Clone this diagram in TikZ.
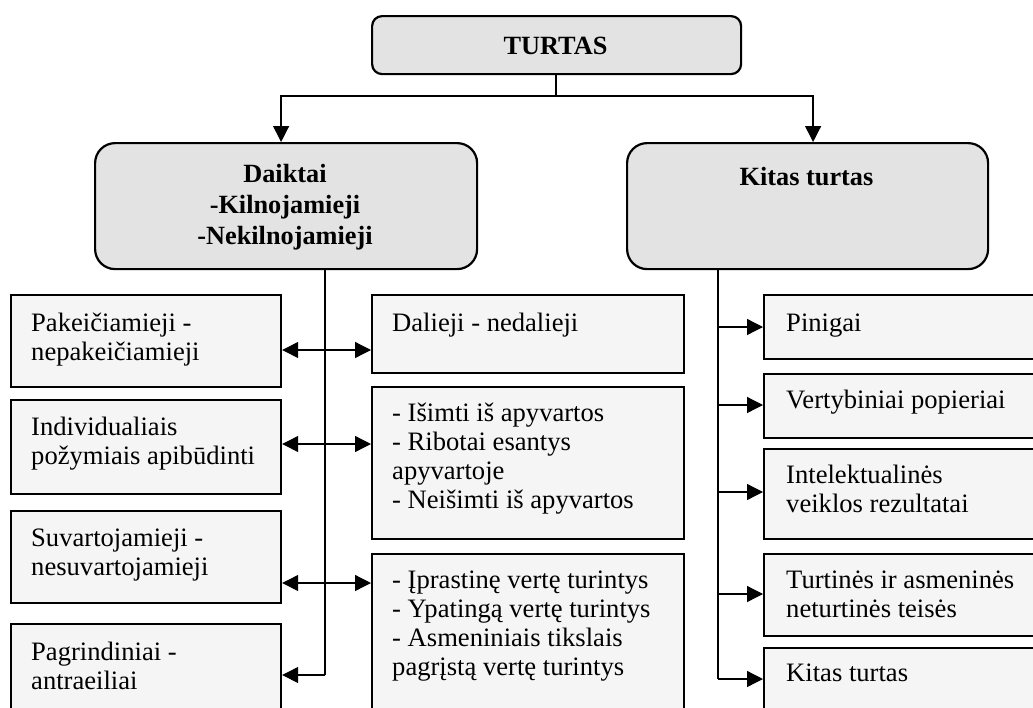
\documentclass[tikz,border=0pt]{standalone}
\usepackage{fontspec}
\setmainfont{Liberation Serif}
\usetikzlibrary{arrows.meta}
\definecolor{bigfill}{HTML}{E3E3E3}
\definecolor{smallfill}{HTML}{F5F5F5}
\newcommand\tstrut{\rule{0pt}{24pt}}
\begin{document}
\begin{tikzpicture}[x=1pt,y=-1pt,
  bigbox/.style={draw,line width=2.2pt,fill=bigfill,rounded corners=#1,anchor=north west,inner sep=0pt},
  smallbox/.style={draw,line width=2.2pt,fill=smallfill,anchor=north west,inner sep=0pt},
  lbl/.style={anchor=north west,inner sep=0pt,align=left,font=\fontsize{26.6}{29}\selectfont},
  blbl/.style={anchor=north,inner sep=0pt,align=center,font=\fontsize{26.3}{31}\selectfont\bfseries},
  conn/.style={line width=1.3pt},
  arr/.style={line width=1.3pt,-{Triangle[length=16pt,width=16pt]}},
  dbl/.style={line width=1.3pt,{Triangle[length=16pt,width=16pt]}-{Triangle[length=16pt,width=16pt]}}
]
\clip (0,0) rectangle (1033,707);
\fill[white] (0,0) rectangle (1033,707);

% top boxes
\node[bigbox=10pt,minimum width=369pt,minimum height=58pt] (turtas) at (371,15) {};
\node[blbl] (turtasT) at (555.5,30) {\tstrut TURTAS};
\node[bigbox=20pt,minimum width=382pt,minimum height=126pt] (daiktai) at (94,142) {};
\node[blbl] (daiktaiT) at (285,158) {\tstrut Daiktai\\-Kilnojamieji\\-Nekilnojamieji};
\node[bigbox=20pt,minimum width=361pt,minimum height=126pt] (kitas) at (626,142) {};
\node[blbl] (kitasT) at (806.5,161) {\tstrut Kitas turtas};

% left boxes
\node[smallbox,minimum width=270pt,minimum height=92pt] (L1) at (10,294) {};
\node[smallbox,minimum width=270pt,minimum height=94pt] (L2) at (10,399) {};
\node[smallbox,minimum width=270pt,minimum height=92pt] (L3) at (10,510) {};
\node[smallbox,minimum width=270pt,minimum height=110pt] (L4) at (10,623) {};
\node[lbl] (L1T) at (31,307) {\tstrut Pakeičiamieji -\\nepakeičiamieji};
\node[lbl] (L2T) at (31,411) {\tstrut Individualiais\\požymiais apibūdinti};
\node[lbl] (L3T) at (31,522) {\tstrut Suvartojamieji -\\nesuvartojamieji};
\node[lbl] (L4T) at (31,636) {\tstrut Pagrindiniai -\\antraeiliai};

% middle boxes
\node[smallbox,minimum width=312pt,minimum height=78pt] (M1) at (371,294) {};
\node[smallbox,minimum width=312pt,minimum height=152pt] (M2) at (371,386) {};
\node[smallbox,minimum width=312pt,minimum height=180pt] (M3) at (371,553) {};
\node[lbl] (M1T) at (392,307) {\tstrut Dalieji - nedalieji};
\node[lbl] (M2T) at (392,397) {\tstrut - Išimti iš apyvartos\\- Ribotai esantys\\apyvartoje\\- Neišimti iš apyvartos};
\node[lbl] (M3T) at (392,564) {\tstrut - Įprastinę vertę turintys\\- Ypatingą vertę turintys\\- Asmeniniais tikslais\\pagrįstą vertę turintys};

% right boxes
\node[smallbox,minimum width=280pt,minimum height=64pt] (R1) at (763,294) {};
\node[smallbox,minimum width=280pt,minimum height=64pt] (R2) at (763,373) {};
\node[smallbox,minimum width=280pt,minimum height=90pt] (R3) at (763,448) {};
\node[smallbox,minimum width=280pt,minimum height=82pt] (R4) at (763,553) {};
\node[smallbox,minimum width=280pt,minimum height=90pt] (R5) at (763,647) {};
\node[lbl] (R1T) at (786,307) {\tstrut Pinigai};
\node[lbl] (R2T) at (786,384) {\tstrut Vertybiniai popieriai};
\node[lbl] (R3T) at (786,459) {\tstrut Intelektualinės\\veiklos rezultatai};
\node[lbl] (R4T) at (786,564) {\tstrut Turtinės ir asmeninės\\neturtinės teisės};
\node[lbl] (R5T) at (786,657) {\tstrut Kitas turtas};

% top connectors
\coordinate (split) at (556,96);
\draw[conn] (turtas.south -| split) -- (split);
\draw[arr] (split) -| ([xshift=-5pt]daiktai.north);
\draw[arr] (split) -| ([xshift=5.5pt]kitas.north);

% left trunk
\coordinate (ltrunk) at (325,675);
\draw[conn] (daiktai.south -| ltrunk) -- (ltrunk);
\draw[arr] (ltrunk) -- (ltrunk -| L4.east);
\draw[dbl] ([yshift=-56pt]L1.north east) -- ([yshift=-56pt]L1.north east -| M1.west);
\draw[dbl] ([yshift=-45pt]L2.north east) -- ([yshift=-45pt]L2.north east -| M2.west);
\draw[dbl] ([yshift=-73pt]L3.north east) -- ([yshift=-73pt]L3.north east -| M3.west);

% right trunk
\coordinate (rtrunk) at (718,679);
\draw[conn] (kitas.south -| rtrunk) -- (rtrunk);
\draw[arr] (rtrunk) -- (rtrunk -| R5.west);
\draw[arr] (rtrunk |- {(0,327)}) -- (R1.west |- {(0,327)});
\draw[arr] (rtrunk |- {(0,405)}) -- (R2.west |- {(0,405)});
\draw[arr] (rtrunk |- {(0,492)}) -- (R3.west |- {(0,492)});
\draw[arr] (rtrunk |- {(0,594)}) -- (R4.west |- {(0,594)});
\end{tikzpicture}
\end{document}
